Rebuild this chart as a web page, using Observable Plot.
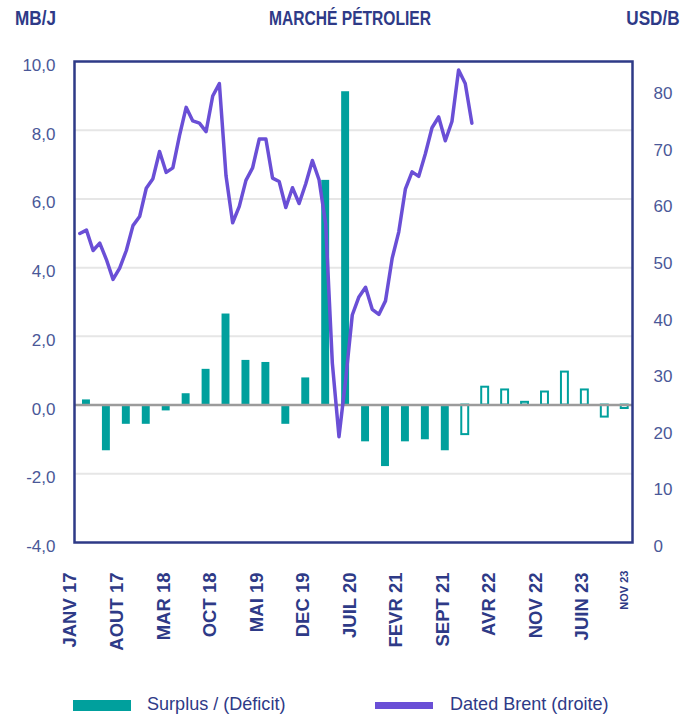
<!DOCTYPE html>
<html><head><meta charset="utf-8">
<script src="https://cdn.jsdelivr.net/npm/d3@7"></script>
<script src="https://cdn.jsdelivr.net/npm/@observablehq/plot@0.6"></script>
<style>
body{margin:0;background:#fff;font-family:"Liberation Sans",Arial,sans-serif;}
#wrap{width:694px;background:#fff;}
#title{position:relative;height:40px;color:#2e3a87;font-weight:bold;font-size:19.5px;}
#title span{position:absolute;top:8px;line-height:20px;white-space:nowrap;}
#t-left{left:15px;transform-origin:left center;transform:scaleX(0.88);}
#t-mid{left:350px;transform:translateX(-50%) scaleX(0.8);}
#t-right{right:14px;transform-origin:right center;transform:scaleX(0.88);}
#legend{position:relative;height:35px;color:#2e3a87;font-size:19px;}
#legend .sw{position:absolute;}
#legend .lt{position:absolute;top:14px;height:20px;line-height:20px;white-space:nowrap;transform-origin:left center;transform:scaleX(0.95);}
</style>
</head><body>
<div id="wrap">
  <div id="title"><span id="t-left">MB/J</span><span id="t-mid">MARCHÉ PÉTROLIER</span><span id="t-right">USD/B</span></div>
  <div id="chart"></div>
  <div id="legend">
    <div class="sw" style="left:73px;top:20px;width:58px;height:11px;background:#00a09d"></div>
    <div class="lt" style="left:147px">Surplus / (Déficit)</div>
    <div class="sw" style="left:375px;top:22px;width:58px;height:7px;background:#6a4fd6"></div>
    <div class="lt" style="left:450px">Dated Brent (droite)</div>
  </div>
</div>
<script>
// Quarterly surplus / (deficit), MB/J
const barQuarters = ["2017T1","2017T2","2017T3","2017T4","2018T1","2018T2","2018T3","2018T4",
  "2019T1","2019T2","2019T3","2019T4","2020T1","2020T2","2020T3","2020T4",
  "2021T1","2021T2","2021T3","2021T4","2022T1","2022T2","2022T3","2022T4",
  "2023T1","2023T2","2023T3","2023T4"];
const barValues = [0.15,-1.33,-0.56,-0.56,-0.17,0.33,1.04,2.65,
  1.30,1.24,-0.56,0.79,6.54,9.12,-1.07,-1.79,
  -1.07,-1.01,-1.33,-0.86,0.52,0.44,0.08,0.38,
  0.96,0.44,-0.35,-0.10];
const barStatus = ["réel","réel","réel","réel","réel","réel","réel","réel",
  "réel","réel","réel","réel","réel","réel","réel","réel",
  "réel","réel","réel","prévision","prévision","prévision","prévision","prévision",
  "prévision","prévision","prévision","prévision"];

// Monthly Dated Brent, USD/B, Jan 2017 - Dec 2021
const brentStart = "2017-01";
const brentValues = [54.6,55.2,51.6,52.9,50.0,46.5,48.5,51.6,56.0,57.6,62.6,64.3,
  69.1,65.4,66.2,71.9,76.9,74.5,74.1,72.6,78.9,81.1,64.8,56.5,
  59.4,64.0,66.2,71.3,71.3,64.4,63.8,59.2,62.7,59.9,63.4,67.5,
  64.1,56.3,31.7,18.7,28.7,40.2,43.4,45.1,41.2,40.3,42.7,50.2,
  54.9,62.5,65.5,64.7,68.7,73.3,75.2,71.0,74.4,83.5,81.1,74.1];

// Axis ticks
const leftTicks = [-4,-2,0,2,4,6,8,10];
const gridTicks = [-2,2,4,6,8];
const rightTicks = [0,10,20,30,40,50,60,70,80];
const rightMax = 85;
const xTickLabels = ["JANV 17","AOUT 17","MAR 18","OCT 18","MAI 19","DEC 19","JUIL 20","FEVR 21","SEPT 21","AVR 22","NOV 22","JUIN 23"];
const xTickMonths = [0,7,14,21,28,35,42,49,56,63,70,77];
const xLastLabel = "NOV 23";
const xLastMonth = 82;

const navy = "#2e3a87";
const tickColor = "#4a5898";
const teal = "#00a09d";
const purple = "#6a4fd6";

const toLeft = b => -4 + b * 14 / rightMax;

const bars = barQuarters.map((q, i) => ({q, v: barValues[i], t: i * 3 + 1.5, status: barStatus[i]}));
const brent = brentValues.map((v, i) => ({t: i + 0.5, v}));
const xTicks = xTickLabels.map((label, i) => ({label, t: xTickMonths[i]}));

const chart = Plot.plot({
  width: 694, height: 640,
  marginTop: 21, marginBottom: 138, marginLeft: 74, marginRight: 62,
  x: {domain: [-0.3, 83.67], axis: null},
  y: {domain: [-4, 10], axis: null},
  style: {fontFamily: "'Liberation Sans', Arial, sans-serif", color: tickColor, background: "white", overflow: "visible"},
  marks: [
    Plot.ruleY(gridTicks, {stroke: "#e6e6e6", strokeWidth: 2}),
    Plot.rect(bars.filter(d => d.status === "réel"), {x1: d => d.t - 1.5, x2: d => d.t + 1.5, y1: 0, y2: "v", fill: teal, insetLeft: 6, insetRight: 6}),
    Plot.rect(bars.filter(d => d.status !== "réel"), {x1: d => d.t - 1.5, x2: d => d.t + 1.5, y1: 0, y2: "v", fill: "white", stroke: teal, strokeWidth: 2, insetLeft: 6.5, insetRight: 6.5}),
    Plot.ruleY([0], {stroke: "#9b9b9b", strokeWidth: 2.5}),
    Plot.line(brent, {x: "t", y: d => toLeft(d.v), stroke: purple, strokeWidth: 3.5, strokeLinejoin: "round"}),
    Plot.frame({stroke: navy, strokeWidth: 2.5}),
    Plot.axisY({ticks: leftTicks, anchor: "left", tickSize: 0, tickPadding: 19, tickFormat: d => d.toFixed(1).replace(".", ","), fontSize: 17, dy: 4, label: null, fill: tickColor}),
    Plot.text(rightTicks, {y: d => toLeft(d), frameAnchor: "right", textAnchor: "start", dx: 21, dy: 4, text: d => String(d), fontSize: 17, fill: tickColor}),
    Plot.text(xTicks, {x: "t", text: "label", frameAnchor: "bottom", dy: 30, rotate: -90, textAnchor: "end", fontWeight: "bold", fontSize: 18.5, fill: navy}),
    Plot.text([xLastLabel], {x: () => xLastMonth, text: d => d, frameAnchor: "bottom", dy: 28, dx: 7, rotate: -90, textAnchor: "end", fontWeight: "bold", fontSize: 11, fill: navy})
  ]
});
document.getElementById("chart").appendChild(chart);
</script>
</body></html>
